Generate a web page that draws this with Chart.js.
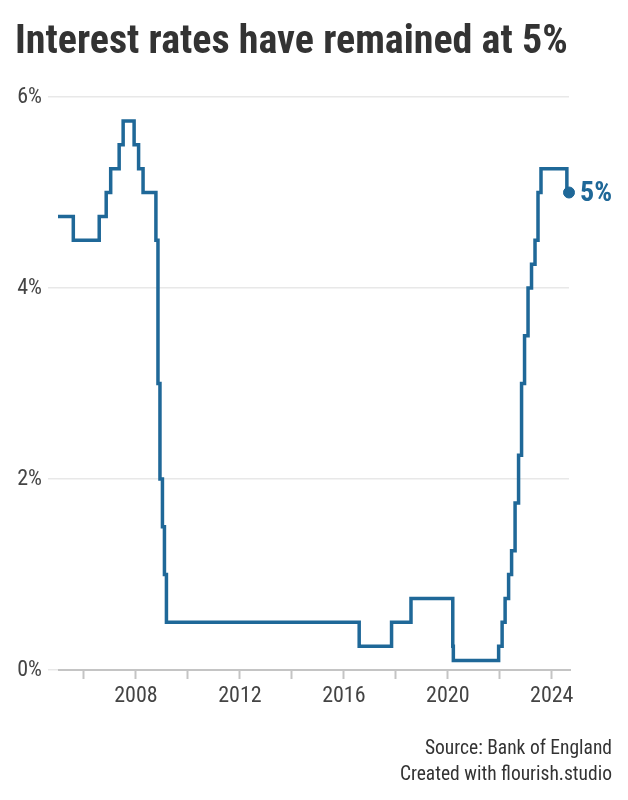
<!DOCTYPE html>
<html><head><meta charset="utf-8">
<script src="https://cdn.jsdelivr.net/npm/chart.js@4.4.1/dist/chart.umd.min.js"></script>
<style>
html,body{margin:0;padding:0;background:#fff;}
#wrap{position:relative;width:628px;height:800px;overflow:hidden;font-family:"Roboto Condensed",Roboto,sans-serif;}
#c{position:absolute;left:0;top:0;}
#title{position:absolute;left:15px;top:16px;font-weight:700;font-size:40px;line-height:48px;color:#333;white-space:nowrap;margin:0;}
#foot{position:absolute;right:16px;top:735px;text-align:right;font-size:19.5px;line-height:26px;color:#333;}
</style></head>
<body><div id="wrap">
<canvas id="c" width="628" height="800"></canvas>
<h1 id="title">Interest rates have remained at 5%</h1>
<div id="foot">Source: Bank of England<br>Created with flourish.studio</div>
</div>
<script>
// Bank of England base rate: date of change and new rate (%)
const changeDates = ['2005-01-01','2005-08-04','2006-08-03','2006-11-09','2007-01-11','2007-05-10','2007-07-05','2007-12-06','2008-02-07','2008-04-10','2008-10-08','2008-11-06','2008-12-04','2009-01-08','2009-02-05','2009-03-05','2016-08-04','2017-11-02','2018-08-02','2020-03-11','2020-03-19','2021-12-16','2022-02-03','2022-03-17','2022-05-05','2022-06-16','2022-08-04','2022-09-22','2022-11-03','2022-12-15','2023-02-02','2023-03-23','2023-05-11','2023-06-22','2023-08-03','2024-08-01','2024-08-31'];
const rates = [4.75,4.5,4.75,5,5.25,5.5,5.75,5.5,5.25,5,4.5,3,2,1.5,1,0.5,0.25,0.5,0.75,0.25,0.1,0.25,0.5,0.75,1,1.25,1.75,2.25,3,3.5,4,4.25,4.5,5,5.25,5,5];
const yTicks = [0,2,4,6];
const xTickYears = [2006,2008,2010,2012,2014,2016,2018,2020,2022,2024];
const xLabelYears = [2008,2012,2016,2020,2024];
const endLabel = '5%';

function toYear(s){
  const [y,m,d]=s.split('-').map(Number);
  const start=Date.UTC(y,0,1), end=Date.UTC(y+1,0,1);
  return y+(Date.UTC(y,m-1,d)-start)/(end-start);
}
const pts = changeDates.map((d,i)=>({x:toYear(d),y:rates[i]}));
const BLUE='#1f6898';
const lastIdx = pts.length-1;

const endLabelPlugin={
  id:'endLabel',
  afterDatasetsDraw(chart){
    const el=chart.getDatasetMeta(0).data[lastIdx];
    const ctx=chart.ctx;ctx.save();
    ctx.font='700 28px "Roboto Condensed"';ctx.fillStyle=BLUE;
    ctx.textAlign='left';ctx.textBaseline='middle';
    ctx.fillText(endLabel,el.x+11,el.y+1);
    ctx.restore();
  }
};
const baselinePlugin={
  id:'baseline',
  afterDraw(chart){
    const {ctx,chartArea}=chart;const y=chart.scales.y.getPixelForValue(0);
    ctx.save();ctx.strokeStyle='#c4c4c4';ctx.lineWidth=2;
    ctx.beginPath();ctx.moveTo(chartArea.left,y);ctx.lineTo(chartArea.right+2,y);ctx.stroke();
    ctx.restore();
  }
};

new Chart(document.getElementById('c'),{
  type:'line',
  data:{datasets:[{
    data:pts,clip:false,
    borderColor:BLUE,borderWidth:3.5,stepped:true,fill:false,
    pointRadius:ctx=>ctx.dataIndex===lastIdx?5.5:0,
    pointHoverRadius:0,
    pointBackgroundColor:BLUE,pointBorderColor:BLUE,pointBorderWidth:1,
    borderCapStyle:'butt',borderJoinStyle:'miter'
  }]},
  options:{
    responsive:false,animation:false,
    layout:{padding:{top:97,right:59,bottom:0,left:0}},
    plugins:{legend:{display:false},tooltip:{enabled:false}},
    scales:{
      x:{
        type:'linear',min:pts[0].x,max:pts[lastIdx].x,
        afterFit(s){s.height=130;},
        afterBuildTicks(s){s.ticks=xTickYears.map(v=>({value:v}));},
        grid:{display:true,drawOnChartArea:false,drawTicks:true,tickLength:9,tickWidth:2,tickColor:'#c4c4c4'},
        border:{display:false},
        ticks:{autoSkip:false,maxRotation:0,padding:4,color:'#444',
          font:{family:'"Roboto Condensed"',size:22},
          callback:v=>xLabelYears.includes(v)?String(v):''}
      },
      y:{
        min:0,max:6,
        afterFit(s){s.width=58;},
        afterBuildTicks(s){s.ticks=yTicks.map(v=>({value:v}));},
        grid:{color:'#e8e8e8',lineWidth:1.5,drawTicks:true,tickLength:10,tickColor:'#e8e8e8'},
        border:{display:false},
        ticks:{padding:6,color:'#444',font:{family:'"Roboto Condensed"',size:22},
          callback:v=>v+'%'}
      }
    }
  },
  plugins:[baselinePlugin,endLabelPlugin]
});
</script></body></html>
